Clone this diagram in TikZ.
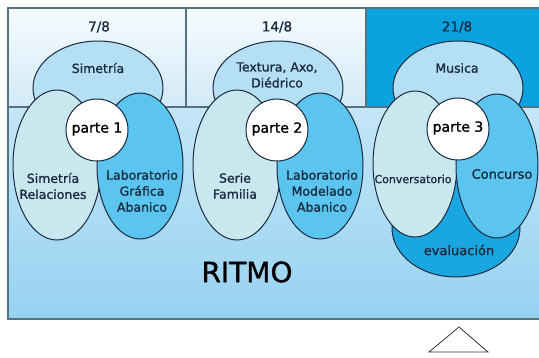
\documentclass[tikz,border=0pt]{standalone}
\usepackage{fontspec}
\setmainfont{DejaVu Sans}[FakeBold=1.2]
\usepackage{tikz}
\definecolor{tinta}{HTML}{1A2A3F}
\definecolor{borde}{HTML}{56717F}
\definecolor{celdaArriba}{HTML}{F6FBFE}
\definecolor{celdaAbajo}{HTML}{D2EAF7}
\definecolor{celdaFuerte}{HTML}{0AA3E0}
\definecolor{ritmoArriba}{HTML}{C4E6F7}
\definecolor{ritmoAbajo}{HTML}{97D2F1}
\definecolor{elipseTema}{HTML}{B4DFF5}
\definecolor{elipseClara}{HTML}{C9E7EE}
\definecolor{elipseAzul}{HTML}{5BC4EF}
\definecolor{elipseEval}{HTML}{1AA6E0}
\tikzset{
	contorno/.style={draw=tinta, line width=1pt},
	etiqueta/.style={text=tinta, align=center, font=\fontsize{12.5}{16}\selectfont},
	fecha/.style={text=tinta, font=\fontsize{13.5}{15}\selectfont},
	parte/.style={text=black, font=\fontsize{14}{16}\selectfont}
}

\begin{document}
\begin{tikzpicture}[x=1pt, y=-1pt]
		%%%%% START %%%%%
		\useasboundingbox (0, 0) rectangle (539, 357);
		
		\shade[top color=ritmoArriba, bottom color=ritmoAbajo] (8, 107) rectangle (545, 319);
		\shade[top color=celdaArriba, bottom color=celdaAbajo] (8, 8) rectangle (186, 107);
		\shade[top color=celdaArriba, bottom color=celdaAbajo] (186, 8) rectangle (366, 107);
		\fill[celdaFuerte] (366, 8) rectangle (545, 107);
		
		\draw[line width=1.2pt, color=borde] (8, 8) rectangle (545, 319);
		\draw[line width=1.2pt, color=borde] (8, 107) -- (545, 107);
		\draw[line width=1.2pt, color=borde] (186, 8) -- (186, 107);
		\draw[line width=1.2pt, color=borde] (366, 8) -- (366, 107);
		
		% parte 1
		\draw[contorno, fill=elipseTema] (98, 88) ellipse [x radius=65, y radius=47];
		\draw[contorno, fill=elipseClara] (57, 165) ellipse [x radius=44, y radius=75];
		\draw[contorno, fill=elipseAzul] (140, 166) ellipse [x radius=43, y radius=73];
		\draw[contorno, fill=white] (97, 130) circle (31);
		
		% parte 2
		\draw[contorno, fill=elipseTema] (278, 88) ellipse [x radius=65, y radius=47];
		\draw[contorno, fill=elipseClara] (237, 165) ellipse [x radius=44, y radius=75];
		\draw[contorno, fill=elipseAzul] (320, 166) ellipse [x radius=43, y radius=73];
		\draw[contorno, fill=white] (277, 130) circle (31);
		
		% parte 3
		\draw[contorno, fill=elipseTema] (458, 88) ellipse [x radius=65, y radius=47];
		\draw[contorno, fill=elipseEval] (456, 228) ellipse [x radius=64, y radius=49];
		\draw[contorno, fill=elipseClara] (415, 164) ellipse [x radius=42, y radius=73];
		\draw[contorno, fill=elipseAzul] (497, 166) ellipse [x radius=41, y radius=72];
		\draw[contorno, fill=white] (458, 129) circle (31);
		
		\node[fecha] (fecha1) at (99, 27) {7/8};
		\node[fecha] (fecha2) at (277, 27) {14/8};
		\node[fecha] (fecha3) at (457, 27) {21/8};
		
		\node[etiqueta] (tema1) at (98, 68) {Simetría};
		\node[etiqueta] (tema2) at (277, 75) {Textura, Axo,\\Diédrico};
		\node[etiqueta] (tema3) at (457, 68) {Musica};
		
		\node[parte] (parte1) at (97, 129) {parte 1};
		\node[parte] (parte2) at (277, 129) {parte 2};
		\node[parte] (parte3) at (458, 128) {parte 3};
		
		\node[etiqueta] (clara1) at (53, 186) {Simetría\\Relaciones};
		\node[etiqueta] (azul1) at (142, 191) {Laboratorio\\Gráfica\\Abanico};
		\node[etiqueta] (clara2) at (235, 186) {Serie\\Familia};
		\node[etiqueta] (azul2) at (322, 191) {Laboratorio\\Modelado\\Abanico};
		\node[etiqueta, font=\fontsize{11}{13}\selectfont] (clara3) at (413, 179) {Conversatorio};
		\node[etiqueta, font=\fontsize{13}{15}\selectfont] (azul3) at (502, 174) {Concurso};
		\node[etiqueta, font=\fontsize{13}{15}\selectfont] (eval3) at (459, 250) {evaluación};
		
		\node[text=black, font=\fontsize{28}{30}\selectfont] (ritmo) at (247, 272) {RITMO};
		
		\draw[line width=0.8pt, color=black!80] (429, 352) -- (459, 327) -- (488, 352) -- cycle;
		
		%%%%% END %%%%%
	\end{tikzpicture}
\end{document}
